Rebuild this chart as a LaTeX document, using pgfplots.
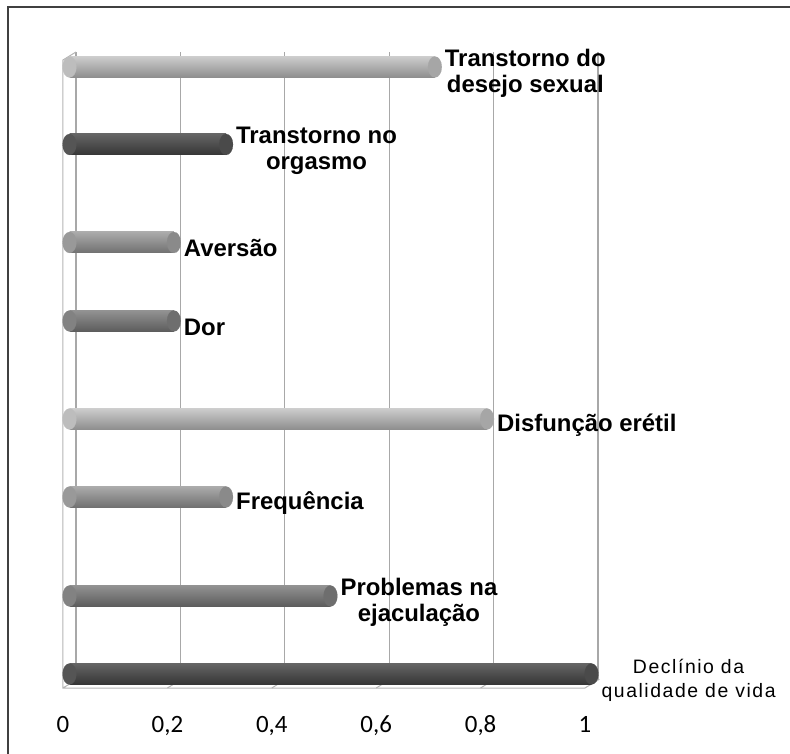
\documentclass[border=0pt]{standalone}
\usepackage{fontspec}
\setmainfont{Liberation Sans}
\newfontfamily\carlito{Carlito}
\newfontfamily\spaced[LetterSpace=8]{Liberation Sans}
\usepackage{pgfplots}
\pgfplotsset{compat=1.18}
\definecolor{gridgray}{HTML}{A8A8A8}
\definecolor{floorgray}{HTML}{B4B4B4}
\definecolor{ltT}{HTML}{CDCDCD}\definecolor{ltM}{HTML}{BDBDBD}\definecolor{ltB}{HTML}{8E8E8E}\definecolor{ltC}{HTML}{A6A6A6}
\definecolor{mdT}{HTML}{ABABAB}\definecolor{mdM}{HTML}{999999}\definecolor{mdB}{HTML}{707070}\definecolor{mdC}{HTML}{8A8A8A}
\definecolor{drT}{HTML}{929292}\definecolor{drM}{HTML}{828282}\definecolor{drB}{HTML}{5C5C5C}\definecolor{drC}{HTML}{6E6E6E}
\definecolor{dkT}{HTML}{656565}\definecolor{dkM}{HTML}{555555}\definecolor{dkB}{HTML}{353535}\definecolor{dkC}{HTML}{4A4A4A}
\begin{document}
\begin{tikzpicture}
\useasboundingbox (0,0) rectangle (790bp,754bp);
\draw[line width=1.5bp, black!75] (8bp,0) -- (8bp,747bp) -- (790bp,747bp);
\begin{axis}[
  at={(69.5bp,70bp)}, anchor=south west,
  scale only axis, width=522bp, height=628bp,
  xmin=0, xmax=1, ymin=70, ymax=698,
  clip=false,
  axis line style={draw=none}, tick style={draw=none},
  ytick=\empty,
  xtick={0,0.2,0.4,0.6,0.8,1},
  xticklabels={0,{0,2},{0,4},{0,6},{0,8},1},
  xticklabel style={font=\carlito\fontsize{25}{25}\selectfont, anchor=base, xshift=-6.5bp, yshift=-48bp},
  bar width=21bp,
  every node near coord/.append style={anchor=west, align=center, inner sep=0pt, xshift=10bp, yshift=-6bp,
     font=\bfseries\fontsize{24}{26}\selectfont, text=black},
  cylbar/.style={xbar, bar shift=0pt, mark=*, mark size=10.5bp},
  lcap/.style={only marks, mark=*, mark size=10.5bp, mark options={xscale=0.66, draw=#1, fill=#1, line width=0.1bp}},
]
% back wall grid lines
\draw[gridgray, line width=1.1bp]
  ([shift={(6.5bp,4bp)}]axis cs:0,70) -- ([shift={(6.5bp,4bp)}]axis cs:0,698)
  ([shift={(6.5bp,4bp)}]axis cs:0.2,70) -- ([shift={(6.5bp,4bp)}]axis cs:0.2,698)
  ([shift={(6.5bp,4bp)}]axis cs:0.4,70) -- ([shift={(6.5bp,4bp)}]axis cs:0.4,698)
  ([shift={(6.5bp,4bp)}]axis cs:0.6,70) -- ([shift={(6.5bp,4bp)}]axis cs:0.6,698)
  ([shift={(6.5bp,4bp)}]axis cs:0.8,70) -- ([shift={(6.5bp,4bp)}]axis cs:0.8,698)
  ([shift={(6.5bp,4bp)}]axis cs:1,70) -- ([shift={(6.5bp,4bp)}]axis cs:1,698);
% floor and left wall
\draw[floorgray, line width=1bp]
  ([shift={(6.5bp,4bp)}]axis cs:0,698) -- ([shift={(-6.5bp,-4bp)}]axis cs:0,698)
  -- ([shift={(-6.5bp,-4bp)}]axis cs:0,70) -- ([shift={(-6.5bp,-4bp)}]axis cs:1,70)
  -- ([shift={(6.5bp,4bp)}]axis cs:1,70) -- ([shift={(6.5bp,4bp)}]axis cs:0,70)
  -- ([shift={(-6.5bp,-4bp)}]axis cs:0,70);
\draw[floorgray, line width=1bp]
  ([shift={(-6.5bp,-4bp)}]axis cs:0.2,70) -- ([shift={(6.5bp,4bp)}]axis cs:0.2,70)
  ([shift={(-6.5bp,-4bp)}]axis cs:0.4,70) -- ([shift={(6.5bp,4bp)}]axis cs:0.4,70)
  ([shift={(-6.5bp,-4bp)}]axis cs:0.6,70) -- ([shift={(6.5bp,4bp)}]axis cs:0.6,70)
  ([shift={(-6.5bp,-4bp)}]axis cs:0.8,70) -- ([shift={(6.5bp,4bp)}]axis cs:0.8,70);
% left caps
\addplot[lcap=ltM] coordinates {(0,687) (0,335)};
\addplot[lcap=mdM] coordinates {(0,511.5) (0,257)};
\addplot[lcap=drM] coordinates {(0,433) (0,158)};
\addplot[lcap=dkM] coordinates {(0,609.5) (0,80)};
% bars
\addplot[cylbar, top color=ltT, middle color=ltM, bottom color=ltB, draw=none,
  mark options={xscale=0.66, draw=ltC, fill=ltC, line width=0.1bp},
  nodes near coords={Transtorno do\\desejo sexual}] coordinates {(0.7,687)};
\addplot[cylbar, top color=dkT, middle color=dkM, bottom color=dkB, draw=none,
  mark options={xscale=0.66, draw=dkC, fill=dkC, line width=0.1bp},
  nodes near coords={Transtorno no\\orgasmo}] coordinates {(0.3,609.5)};
\addplot[cylbar, top color=mdT, middle color=mdM, bottom color=mdB, draw=none,
  mark options={xscale=0.66, draw=mdC, fill=mdC, line width=0.1bp},
  nodes near coords={Aversão}] coordinates {(0.2,511.5)};
\addplot[cylbar, top color=drT, middle color=drM, bottom color=drB, draw=none,
  mark options={xscale=0.66, draw=drC, fill=drC, line width=0.1bp},
  nodes near coords={Dor}] coordinates {(0.2,433)};
\addplot[cylbar, top color=ltT, middle color=ltM, bottom color=ltB, draw=none,
  mark options={xscale=0.66, draw=ltC, fill=ltC, line width=0.1bp},
  nodes near coords={Disfunção erétil}] coordinates {(0.8,335)};
\addplot[cylbar, top color=mdT, middle color=mdM, bottom color=mdB, draw=none,
  mark options={xscale=0.66, draw=mdC, fill=mdC, line width=0.1bp},
  nodes near coords={Frequência}] coordinates {(0.3,257)};
\addplot[cylbar, top color=drT, middle color=drM, bottom color=drB, draw=none,
  mark options={xscale=0.66, draw=drC, fill=drC, line width=0.1bp},
  nodes near coords={Problemas na\\ejaculação}] coordinates {(0.5,158)};
\addplot[cylbar, top color=dkT, middle color=dkM, bottom color=dkB, draw=none,
  mark options={xscale=0.66, draw=dkC, fill=dkC, line width=0.1bp},
  nodes near coords={Declínio da\\qualidade de vida},
  nodes near coords style={font=\spaced\fontsize{19.5}{24}\selectfont}] coordinates {(1,80)};
\end{axis}
\end{tikzpicture}
\end{document}
